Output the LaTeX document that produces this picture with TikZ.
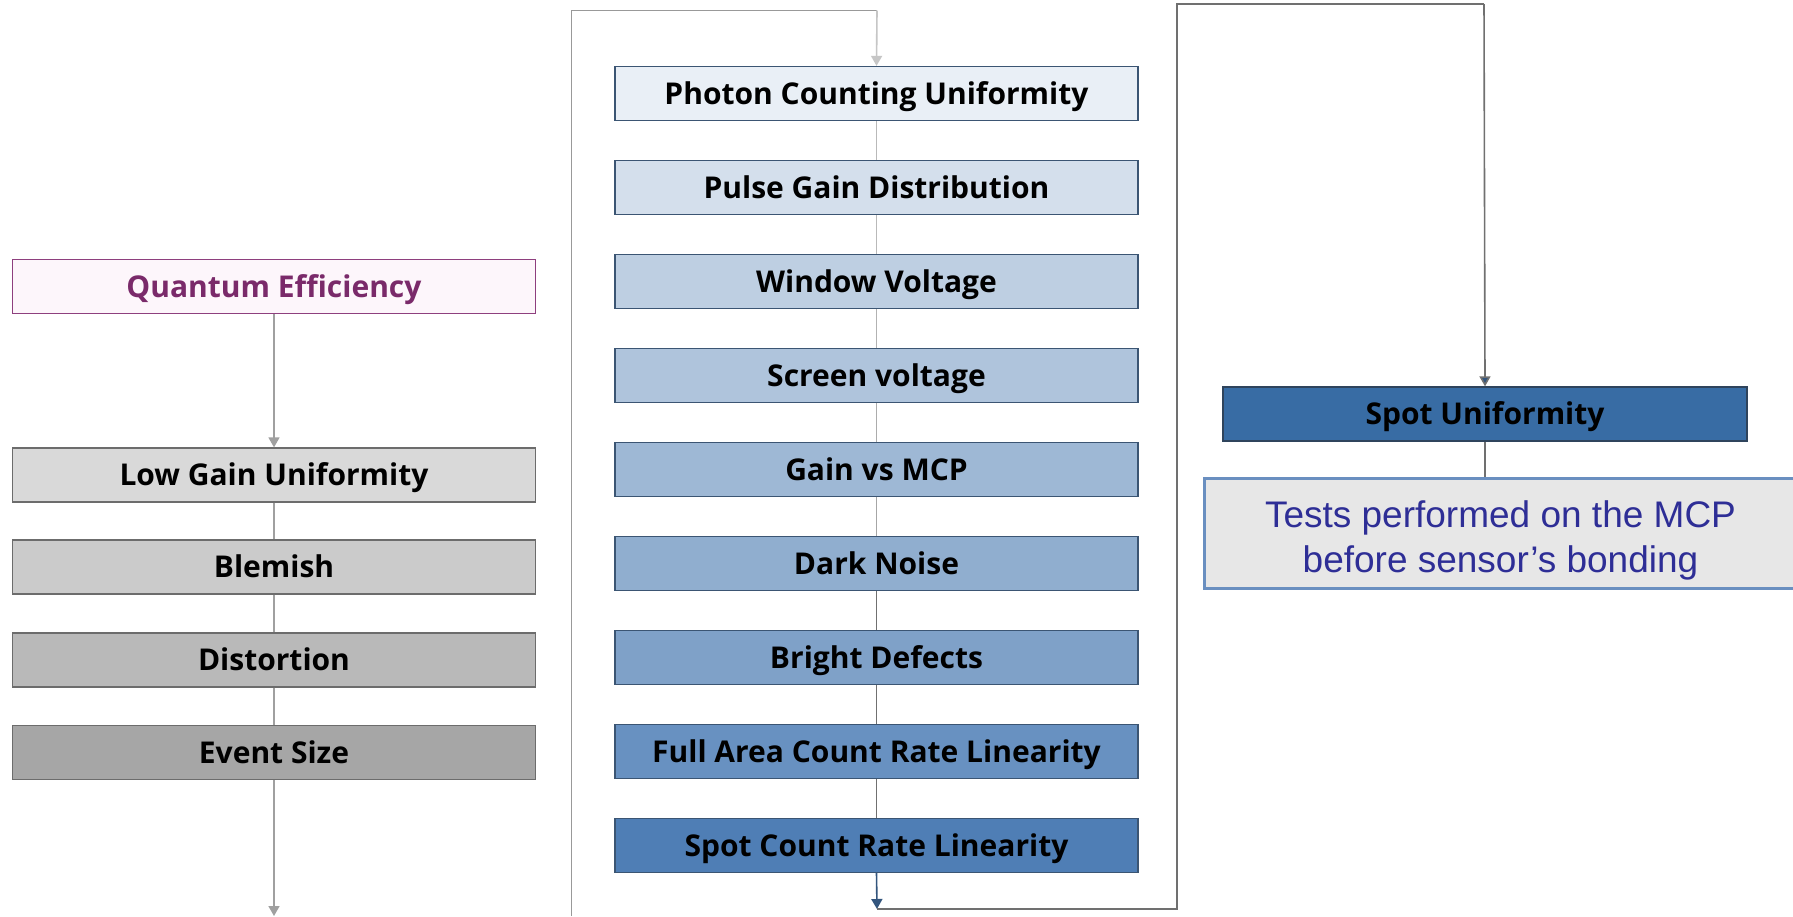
\documentclass[tikz,border=0pt]{standalone}
\usepackage{fontspec}
\usetikzlibrary{arrows.meta}
\newfontfamily\boxfont{Open Sans}[UprightFont=* Bold]
\newfontfamily\notefont{Liberation Sans}
\definecolor{qeborder}{HTML}{8E3F7E}
\definecolor{qetext}{HTML}{7A2A6A}
\definecolor{qefill}{HTML}{FDF6FB}
\definecolor{gA}{HTML}{D9D9D9}
\definecolor{gB}{HTML}{CBCBCB}
\definecolor{gC}{HTML}{B9B9B9}
\definecolor{gD}{HTML}{A6A6A6}
\definecolor{bA}{HTML}{E9EFF6}
\definecolor{bB}{HTML}{D4DFEC}
\definecolor{bC}{HTML}{BECFE2}
\definecolor{bD}{HTML}{AFC4DC}
\definecolor{bE}{HTML}{9EB8D5}
\definecolor{bF}{HTML}{90AECF}
\definecolor{bG}{HTML}{7FA1C8}
\definecolor{bH}{HTML}{6891C1}
\definecolor{bI}{HTML}{4F7EB5}
\definecolor{spotu}{HTML}{386CA4}
\definecolor{bluebord}{HTML}{3B5573}
\definecolor{notefill}{HTML}{E7E7E7}
\definecolor{notebord}{HTML}{6A8FC0}
\definecolor{notetext}{HTML}{2E2E96}
\definecolor{lineg}{HTML}{A0A0A0}
\definecolor{lined}{HTML}{707070}
\definecolor{arrowblue}{HTML}{33557D}
\tikzset{
  stepbox/.style={draw, line width=1.3pt, minimum width=523pt, minimum height=54pt, inner sep=0pt,
    text height=21pt, text depth=0pt,
    font=\boxfont\fontsize{30}{34}\selectfont, text=black},
  graybox/.style={stepbox, draw=gray!85!black},
  bluebox/.style={stepbox, draw=bluebord},
  conn/.style={line width=1.6pt, draw=lineg},
  conndark/.style={line width=1.6pt, draw=lined},
  tip/.style={-{Triangle[width=11pt,length=10pt]}}
}
\begin{document}
\begin{tikzpicture}[x=1pt,y=-1pt]
\useasboundingbox (0,0) rectangle (1793,916);
\fill[white] (0,0) rectangle (1793,916);
% left column
\node[stepbox, draw=qeborder, fill=qefill, text=qetext] (qe) at (274,286.5) {Quantum Efficiency};
\node[graybox, fill=gA] (lg) at (274,475) {Low Gain Uniformity};
\node[graybox, fill=gB] (bl) at (274,567) {Blemish};
\node[graybox, fill=gC] (di) at (274,660) {Distortion};
\node[graybox, fill=gD] (es) at (274,752.5) {Event Size};
% middle column
\node[bluebox, fill=bA] (pc) at (876.5,93.5) {Photon Counting Uniformity};
\node[bluebox, fill=bB] (pg) at (876.5,187.5) {Pulse Gain Distribution};
\node[bluebox, fill=bC] (wv) at (876.5,281.5) {Window Voltage};
\node[bluebox, fill=bD] (sv) at (876.5,375.5) {Screen voltage};
\node[bluebox, fill=bE] (gm) at (876.5,469.5) {Gain vs MCP};
\node[bluebox, fill=bF] (dn) at (876.5,563.5) {Dark Noise};
\node[bluebox, fill=bG] (bd) at (876.5,657.5) {Bright Defects};
\node[bluebox, fill=bH] (fa) at (876.5,751.5) {Full Area Count Rate Linearity};
\node[bluebox, fill=bI] (sc) at (876.5,845.5) {Spot Count Rate Linearity};
% right column
\node[stepbox, draw=bluebord!80!black, fill=spotu, minimum width=524pt] (su) at (1485,414) {Spot Uniformity};
\node[draw=notebord, line width=3pt, fill=notefill, minimum width=600pt, minimum height=110pt, inner sep=0pt,
  anchor=north west, text=notetext, align=center,
  font=\notefont\fontsize{37}{45}\selectfont] (nt) at (1203,477) {\raisebox{-7pt}[\height][\depth]{\begin{tabular}{@{}c@{}}Tests performed on the MCP\\before sensor’s bonding\end{tabular}}\hspace*{8pt}};
% connectors left
\draw[conn, tip] (qe.south) -- (lg.north);
\draw[conn] (lg.south) -- (bl.north);
\draw[conn] (bl.south) -- (di.north);
\draw[conn] (di.south) -- (es.north);
\coordinate (lbot) at (274,916);
\draw[conn, tip] (es.south) -- (lbot);
% loop to middle
\coordinate (la) at (571.5,916);
\coordinate (lb) at (571.5,10.5);
\coordinate (lc) at (877,10.5);
\draw[conn, draw=gray!80] (la) -- (lb) -- (lc);
\draw[conn, draw=gray!45, tip] (lc) -- (pc.north);
% middle connectors
\draw[conn, draw=gray!55] (pc.south) -- (pg.north);
\draw[conn, draw=gray!55] (pg.south) -- (wv.north);
\draw[conn, draw=gray!60] (wv.south) -- (sv.north);
\draw[conn, draw=gray!65] (sv.south) -- (gm.north);
\draw[conn, draw=gray!70] (gm.south) -- (dn.north);
\draw[conndark] (dn.south) -- (bd.north);
\draw[conndark] (bd.south) -- (fa.north);
\draw[conndark] (fa.south) -- (sc.north);
% loop to right
\coordinate (ma) at (877,909);
\coordinate (mb) at (1177,909);
\coordinate (mc) at (1177,4);
\coordinate (md) at (1484,4);
\draw[conndark, draw=arrowblue, tip] (sc.south) -- (ma);
\draw[conndark] (ma) -- (mb) -- (mc) -- (md);
\draw[conndark, -{Triangle[width=11pt,length=10pt,fill=arrowblue]}] (md) -- (su.north);
\draw[conndark] (su.south) -- (nt.north -| su.south);
\end{tikzpicture}
\end{document}
